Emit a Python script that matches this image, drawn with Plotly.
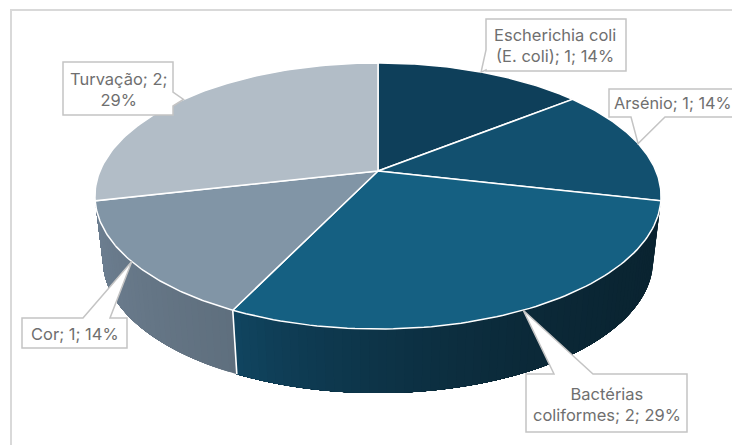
import math
import plotly.graph_objects as go

# ---- data ----
categories = ["Escherichia coli (E. coli)", "Arsénio", "Bactérias coliformes", "Cor", "Turvação"]
values = [1, 1, 2, 1, 2]
label_text = [
    "Escherichia coli<br>(E. coli); {v}; {p}%",
    "Arsénio; {v}; {p}%",
    "Bactérias<br>coliformes; {v}; {p}%",
    "Cor; {v}; {p}%",
    "Turvação; {v};<br>{p}%",
]

# ---- styles ----
top_colors = ["#0e3f5a", "#12506f", "#156082", "#8195a6", "#b2bdc7"]
# wall gradient, following the rim clockwise: colour at the start, colour at the end, easing power
wall_stops = [None, ("#0a2431", "#0a2431", 1), ("#0a2431", "#10445f", 2.5), ("#5f6f7e", "#6e8092", 1), None]
FONT = "Inter"
TXT = "#6f6f6f"
EDGE = "#c4c4c4"

# ---- pie projection ----
CX, CY, R, K, A = 378.0, 171.0, 278.0, 0.188, 96.2
DEPTH, BOTTOM_SCALE = 64.0, 0.972


def top(t):
    u, v = math.sin(t), math.cos(t)
    d = 1 + K * v
    return CX + R * u / d, (CY - A * v) / d


def bottom(t):
    x, y = top(t)
    return CX + (x - CX) * BOTTOM_SCALE, y + DEPTH


def mix(a, b, f):
    ca = [int(a[i:i + 2], 16) for i in (1, 3, 5)]
    cb = [int(b[i:i + 2], 16) for i in (1, 3, 5)]
    return "#%02x%02x%02x" % tuple(round(p + (q - p) * f) for p, q in zip(ca, cb))


total = sum(values)
edges = [0.0]
for val in values:
    edges.append(edges[-1] + val / total * 2 * math.pi)

WALL_A = math.acos(-K)
WALL_B = 2 * math.pi - WALL_A

fig = go.Figure()

# side walls: each band reaches to the slice's end and the next one paints over it
for i, name in enumerate(categories):
    if wall_stops[i] is None:
        continue
    a, b = max(edges[i], WALL_A), min(edges[i + 1], WALL_B)
    if b <= a:
        continue
    n = max(1, int((b - a) / math.radians(1.5)))
    c0, c1, power = wall_stops[i]
    for j in range(n):
        t0 = a + (b - a) * j / n
        m = 6 + (n - j)
        tt = [t0 + (b - t0) * s / m for s in range(m + 1)]
        pts = [top(t) for t in tt] + [bottom(t) for t in reversed(tt)]
        col = mix(c0, c1, (j / max(1, n - 1)) ** power)
        fig.add_trace(go.Scatter(
            x=[p[0] for p in pts] + [pts[0][0]], y=[p[1] for p in pts] + [pts[0][1]],
            mode="none", fill="toself", fillcolor=col,
            name=name, hoverinfo="skip", showlegend=False))

# white seam between the two front walls
seam = edges[3]
fig.add_trace(go.Scatter(x=[top(seam)[0], bottom(seam)[0]], y=[top(seam)[1], bottom(seam)[1]],
                         mode="lines", line=dict(color="white", width=1.6),
                         hoverinfo="skip", showlegend=False))

# top face
for i, name in enumerate(categories):
    a, b = edges[i], edges[i + 1]
    n = 80
    arc = [top(a + (b - a) * s / n) for s in range(n + 1)]
    pts = [(CX, CY)] + arc + [(CX, CY)]
    fig.add_trace(go.Scatter(
        x=[p[0] for p in pts], y=[p[1] for p in pts], mode="lines", fill="toself",
        fillcolor=top_colors[i], line=dict(color="white", width=1.5),
        name=name, hoverinfo="skip", showlegend=False))

# label boxes: x0, y0, x1, y1, side of the tail, tail base a, tail base b
boxes = [
    (486, 19, 626, 71, "left", 50, 70),
    (609, 89, 745, 117, "bottom", 631, 665),
    (526, 374, 687, 432, "top", 554, 593),
    (22, 318, 127, 348, "top", 83, 110),
    (63, 62, 173, 115, "right", 92, 106),
]
text_pos = [(554.5, 45.5), (612, 103), (607, 404), (74.5, 333.5), (118.5, 89)]

shapes = [
    dict(type="line", xref="x", yref="y", x0=11, x1=11, y0=10, y1=445, line=dict(color="#d9d9d9", width=2)),
    dict(type="line", xref="x", yref="y", x0=10, x1=732, y0=10, y1=10, line=dict(color="#d9d9d9", width=2)),
]
annotations = []
for i, (x0, y0, x1, y1, side, p, q) in enumerate(boxes):
    tx, ty = top((edges[i] + edges[i + 1]) / 2)
    if side == "left":
        pts = [(x0, y0), (x1, y0), (x1, y1), (x0, y1), (x0, q), (tx, ty), (x0, p)]
    elif side == "right":
        pts = [(x0, y0), (x1, y0), (x1, p), (tx, ty), (x1, q), (x1, y1), (x0, y1)]
    elif side == "bottom":
        pts = [(x0, y0), (x1, y0), (x1, y1), (q, y1), (tx, ty), (p, y1), (x0, y1)]
    else:
        pts = [(x0, y0), (p, y0), (tx, ty), (q, y0), (x1, y0), (x1, y1), (x0, y1)]
    path = "M " + " L ".join(f"{a:.1f},{b:.1f}" for a, b in pts) + " Z"
    shapes.append(dict(type="path", xref="x", yref="y", path=path, fillcolor="white",
                       line=dict(color=EDGE, width=1.5)))
    pct = round(values[i] / total * 100)
    annotations.append(dict(
        x=text_pos[i][0], y=text_pos[i][1], xref="x", yref="y", showarrow=False,
        xanchor="left" if i == 1 else "center", yanchor="middle", align="center",
        text=label_text[i].format(v=values[i], p=pct),
        font=dict(family=FONT, size=16.3 if i == 1 else 16.5, color=TXT)))

fig.update_layout(
    width=732, height=445, margin=dict(l=0, r=0, t=0, b=0),
    paper_bgcolor="white", plot_bgcolor="white", showlegend=False,
    xaxis=dict(range=[0, 732], visible=False, fixedrange=True),
    yaxis=dict(range=[445, 0], visible=False, fixedrange=True),
    shapes=shapes, annotations=annotations,
)
fig.write_html("out.html", config={"displayModeBar": False},
               post_script="document.body.style.margin='0';document.body.style.overflow='hidden';")
